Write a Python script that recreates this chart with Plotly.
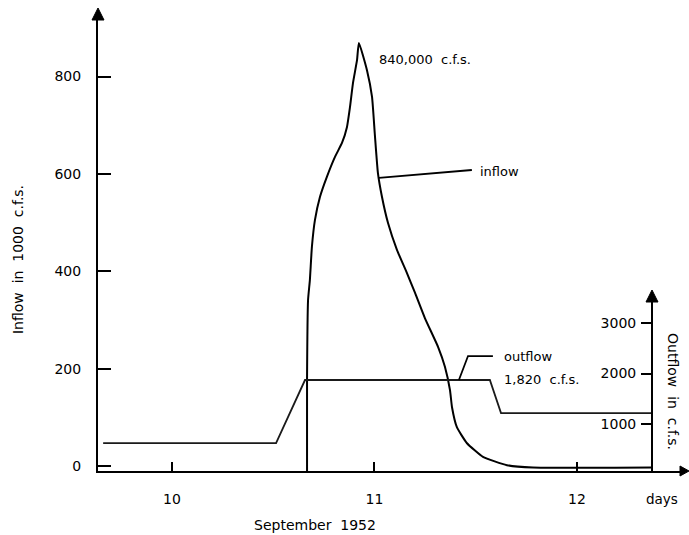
import plotly.graph_objects as go

# ---- data ----
inflow_day = [10.667, 10.667, 10.672, 10.681, 10.691, 10.706, 10.731, 10.765, 10.805,
              10.840, 10.864, 10.879, 10.894, 10.914, 10.923, 10.963, 10.988, 11.002,
              11.017, 11.037, 11.067, 11.111, 11.160, 11.200, 11.249, 11.314,
              11.348, 11.373, 11.383, 11.407, 11.457, 11.536, 11.654, 11.783, 12.370]
inflow_k = [-10, 177, 341, 382, 450, 505, 553, 594, 635,
            664, 696, 737, 787, 834, 869, 813, 758, 680,
            602, 553, 499, 444, 397, 356, 304, 245,
            204, 156, 121, 80, 47, 19, 2, -3, -3]

outflow_day = [9.66, 10.514, 10.657, 11.570, 11.625, 12.370]
outflow_cfs = [623, 623, 1871, 1871, 1217, 1217]

left_ticks = [0, 200, 400, 600, 800]
right_ticks = [1000, 2000, 3000]
day_ticks = [10, 11, 12]

FONT = "DejaVu Sans"
INK = "#000000"

fig = go.Figure()
fig.add_trace(go.Scatter(x=inflow_day, y=inflow_k, mode="lines",
                         line=dict(color=INK, width=2, shape="spline", smoothing=0.45),
                         xaxis="x", yaxis="y",
                         showlegend=False, hoverinfo="skip", cliponaxis=False))
fig.add_trace(go.Scatter(x=outflow_day, y=outflow_cfs, mode="lines",
                         line=dict(color="#1a1a1a", width=1.8), xaxis="x", yaxis="y2",
                         showlegend=False, hoverinfo="skip"))

RIGHT_POS = 0.9519
R_TOP = 0.3747

fig.update_layout(
    width=689, height=535,
    margin=dict(l=98, r=9, t=20, b=64),
    paper_bgcolor="white", plot_bgcolor="rgba(0,0,0,0)",
    font=dict(family=FONT, size=14, color=INK),
    xaxis=dict(range=[9.6346, 12.509], showgrid=False, zeroline=False, anchor="y",
               showline=True, linecolor=INK, linewidth=2,
               tickvals=day_ticks, ticks="inside", ticklen=9, tickwidth=1.5,
               tickcolor=INK, ticklabelstandoff=14,
               tickfont=dict(family=FONT, size=14, color=INK)),
    yaxis=dict(range=[-10, 916], domain=[0, 1], showgrid=False, zeroline=False,
               showline=True, linecolor=INK, linewidth=2,
               tickvals=left_ticks, ticks="inside", ticklen=13, tickwidth=2,
               tickcolor=INK, ticklabelstandoff=12,
               tickfont=dict(family=FONT, size=14, color=INK)),
    yaxis2=dict(range=[69, 3416], domain=[0, R_TOP],
                anchor="free", position=RIGHT_POS, side="left",
                showgrid=False, zeroline=False,
                showline=True, linecolor=INK, linewidth=2,
                tickvals=right_ticks, ticks="outside", ticklen=10, tickwidth=2,
                tickcolor=INK, ticklabelstandoff=2,
                tickfont=dict(family=FONT, size=14, color=INK)),
)

# axis arrowheads (pixel-sized triangles)
def arrow_up(xpaper, ypaper):
    return dict(type="path", xref="paper", yref="paper",
                xsizemode="pixel", ysizemode="pixel",
                xanchor=xpaper, yanchor=ypaper,
                path="M -6,0 L 6,0 L 0,12 Z",
                fillcolor=INK, line=dict(color=INK, width=1))

shapes = [
    arrow_up(0, 1),
    arrow_up(RIGHT_POS, R_TOP),
    dict(type="path", xref="paper", yref="paper",
         xsizemode="pixel", ysizemode="pixel", xanchor=1, yanchor=0,
         path="M 0,-5 L 0,5 L 9,0 Z", fillcolor=INK, line=dict(color=INK, width=1)),
    # inflow leader
    dict(type="line", xref="x", yref="y", x0=11.022, y0=592, x1=11.481, y1=608,
         line=dict(color=INK, width=1.8)),
    # outflow leader (bent)
    dict(type="path", xref="x", yref="y2",
         path="M 11.417,1871 L 11.462,2346 L 11.585,2346",
         line=dict(color=INK, width=1.8)),
]
fig.update_layout(shapes=shapes)

ann = [
    dict(x=11.012, y=834, xref="x", yref="y", text="840,000\u00a0\u00a0c.f.s.",
         xanchor="left", yanchor="middle", showarrow=False, font=dict(size=13)),
    dict(x=11.511, y=604, xref="x", yref="y", text="inflow",
         xanchor="left", yanchor="middle", showarrow=False, font=dict(size=13)),
    dict(x=11.630, y=2346, xref="x", yref="y2", text="outflow",
         xanchor="left", yanchor="middle", showarrow=False, font=dict(size=13)),
    dict(x=11.630, y=1891, xref="x", yref="y2", text="1,820\u00a0\u00a0c.f.s.",
         xanchor="left", yanchor="middle", showarrow=False, font=dict(size=13)),
    dict(x=12.42, y=0, xref="x", yref="paper", yshift=-28, text="days",
         xanchor="center", yanchor="middle", showarrow=False, font=dict(size=13.5)),
    dict(x=10.704, y=0, xref="x", yref="paper", yshift=-54, text="September\u00a0\u00a01952",
         xanchor="center", yanchor="middle", showarrow=False, font=dict(size=14)),
    dict(x=0, y=423, xref="paper", yref="y", xshift=-80, text="Inflow\u00a0\u00a0in\u00a0\u00a01000\u00a0\u00a0c.f.s.",
         textangle=-90, xanchor="center", yanchor="middle", showarrow=False,
         font=dict(size=14)),
    dict(x=RIGHT_POS, y=1653, xref="paper", yref="y2", xshift=21, text="Outflow\u00a0\u00a0in\u00a0\u00a0c.f.s.",
         textangle=90, xanchor="center", yanchor="middle", showarrow=False,
         font=dict(size=14)),
]
fig.update_layout(annotations=ann)

fig.write_html("out.html")
